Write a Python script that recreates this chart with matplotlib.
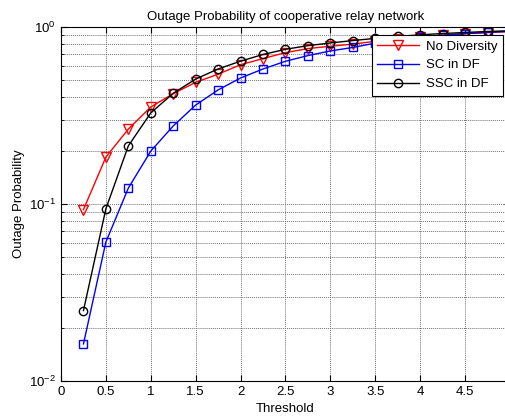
import matplotlib
matplotlib.use("Agg")
import matplotlib.pyplot as plt
from matplotlib.ticker import LogLocator, NullFormatter

plt.rcParams['font.family'] = ['Liberation Sans', 'DejaVu Sans']
plt.rcParams['mathtext.fontset'] = 'custom'
plt.rcParams['mathtext.rm'] = 'Liberation Sans'

threshold = [0.25, 0.5, 0.75, 1.0, 1.25, 1.5, 1.75, 2.0, 2.25, 2.5,
             2.75, 3.0, 3.25, 3.5, 3.75, 4.0, 4.25, 4.5, 4.75, 5.0]
no_diversity = [0.093, 0.184, 0.265, 0.353, 0.420, 0.487, 0.541, 0.612, 0.663, 0.716,
                0.755, 0.778, 0.800, 0.830, 0.858, 0.880, 0.900, 0.916, 0.930, 0.942]
sc_df = [0.0162, 0.061, 0.123, 0.199, 0.276, 0.362, 0.441, 0.515, 0.579, 0.640,
         0.689, 0.732, 0.766, 0.810, 0.845, 0.873, 0.897, 0.917, 0.932, 0.945]
ssc_df = [0.025, 0.094, 0.213, 0.327, 0.422, 0.508, 0.579, 0.641, 0.699, 0.748,
          0.784, 0.812, 0.838, 0.862, 0.884, 0.903, 0.918, 0.931, 0.943, 0.952]

fs = 9.5

fig = plt.figure(figsize=(5.05, 4.18), dpi=100)
ax = fig.add_axes([0.1208, 0.0885, 0.889, 0.847])

ax.semilogy(threshold, no_diversity, color='red', marker='v', mfc='none',
            markersize=6.5, lw=1, label='No Diversity')
ax.semilogy(threshold, sc_df, color='blue', marker='s', mfc='none',
            markersize=6, lw=1, label='SC in DF')
ax.semilogy(threshold, ssc_df, color='black', marker='o', mfc='none',
            markersize=6, lw=1, label='SSC in DF')

ax.set_xlim(0, 5)
ax.set_ylim(1e-2, 1)
ax.set_xticks([0, 0.5, 1, 1.5, 2, 2.5, 3, 3.5, 4, 4.5])
ax.set_xticklabels(['0', '0.5', '1', '1.5', '2', '2.5', '3', '3.5', '4', '4.5'])
ax.yaxis.set_minor_locator(LogLocator(base=10, subs=range(2, 10)))
ax.yaxis.set_minor_formatter(NullFormatter())

ax.grid(True, which='major', color='0.45', linestyle=(0, (1, 1)), lw=0.7)
ax.grid(True, which='minor', axis='y', color='0.45', linestyle=(0, (1, 1)), lw=0.7)
ax.tick_params(which='both', direction='in', top=True, right=True, labelsize=fs)
ax.tick_params(which='major', length=4)
ax.tick_params(which='minor', length=2)

ax.set_title('Outage Probability of cooperative relay network', fontsize=fs, pad=5)
ax.set_xlabel('Threshold', fontsize=fs, labelpad=4)
ax.set_ylabel('Outage Probability', fontsize=fs, labelpad=3)

leg = ax.legend(loc='upper right', bbox_to_anchor=(0.984, 0.977), borderaxespad=0,
                fontsize=fs, fancybox=False, framealpha=1, edgecolor='black',
                handlelength=3.2, borderpad=0.4, labelspacing=0.5, handletextpad=0.5)
leg.get_frame().set_linewidth(0.8)

fig.savefig('out.png', dpi=100)
